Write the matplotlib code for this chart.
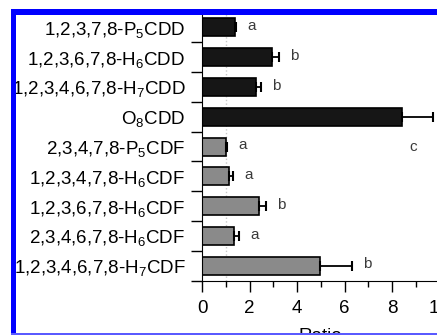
import numpy as np
import matplotlib
matplotlib.use('Agg')
from matplotlib import pyplot as plt
from matplotlib.patches import Rectangle
from matplotlib.ticker import MultipleLocator, FixedLocator

plt.rcParams['font.family'] = ['Liberation Sans', 'DejaVu Sans']
plt.rcParams['mathtext.fontset'] = 'custom'
plt.rcParams['mathtext.rm'] = 'Liberation Sans'
plt.rcParams['mathtext.default'] = 'regular'

congeners = ['1,2,3,7,8-P$_5$CDD', '1,2,3,6,7,8-H$_6$CDD', '1,2,3,4,6,7,8-H$_7$CDD',
             'O$_8$CDD', '2,3,4,7,8-P$_5$CDF', '1,2,3,4,7,8-H$_6$CDF',
             '1,2,3,6,7,8-H$_6$CDF', '2,3,4,6,7,8-H$_6$CDF', '1,2,3,4,6,7,8-H$_7$CDF']
ratio = [1.39, 2.94, 2.28, 8.44, 1.00, 1.15, 2.41, 1.36, 4.98]
ratio_err = [0.06, 0.32, 0.22, 1.28, 0.05, 0.16, 0.29, 0.21, 1.35]
letters = ['a', 'b', 'b', 'c', 'a', 'a', 'b', 'a', 'b']
is_dioxin = [True, True, True, True, False, False, False, False, False]

W, H = 437, 335
fig = plt.figure(figsize=(W / 100, H / 100), dpi=100)
ax = fig.add_axes([202 / W, 1 - 280.7 / H, 237.5 / W, 268.2 / H])

y = np.arange(len(congeners))
colors = ['#161616' if d else '#8a8a8a' for d in is_dioxin]
ax.axvline(1, color='#c8c8c8', ls=':', lw=1, zorder=0)
ax.barh(y, ratio, height=0.6, color=colors, edgecolor='black', linewidth=1.2, zorder=2)
ax.errorbar(ratio, y, xerr=[np.zeros(len(ratio)), ratio_err], fmt='none', ecolor='black',
            elinewidth=1.3, capsize=3.5, capthick=1.5, zorder=3)

for i, (v, e, lt) in enumerate(zip(ratio, ratio_err, letters)):
    if lt == 'c':
        # the c label sits one row lower in the original
        ax.annotate(lt, (v + e, i + 1), xytext=(-14, 0), textcoords='offset points',
                    ha='center', va='center', fontsize=11, color='#3a3a3a')
    else:
        ax.annotate(lt, (v + e, i), xytext=(11, 1), textcoords='offset points',
                    ha='center', va='center', fontsize=11, color='#3a3a3a')

ax.set_ylim(len(congeners) - 0.5, -0.5)
ax.set_xlim(0, 10)
ax.set_yticks(y)
ax.set_yticklabels(congeners, fontsize=13.5)
ax.yaxis.set_minor_locator(FixedLocator(np.arange(len(congeners) + 1) - 0.5))
ax.tick_params(axis='y', which='major', length=0, pad=12)
ax.tick_params(axis='y', which='minor', length=8, width=1, direction='out')
ax.xaxis.set_major_locator(MultipleLocator(2))
ax.xaxis.set_minor_locator(MultipleLocator(1))
ax.tick_params(axis='x', which='major', length=8, width=1, labelsize=13.5, pad=6)
ax.tick_params(axis='x', which='minor', length=4, width=1)
ax.set_xlabel('Ratio', fontsize=13.5, labelpad=8)
for s in ['top', 'right']:
    ax.spines[s].set_visible(False)

# blue frame around the cropped figure
fig.patches.append(Rectangle((11 / W, 1 - 14.5 / H), 1, 5.5 / H, transform=fig.transFigure,
                             facecolor='blue', edgecolor='none', zorder=10))
fig.patches.append(Rectangle((11 / W, 0), 5 / W, 1 - 9 / H, transform=fig.transFigure,
                             facecolor='blue', edgecolor='none', zorder=10))
fig.patches.append(Rectangle((11 / W, 1 - 334.5 / H), 1, 1.8 / H, transform=fig.transFigure,
                             facecolor='#5a5aff', edgecolor='none', zorder=10))

fig.savefig('out.png', dpi=100)
